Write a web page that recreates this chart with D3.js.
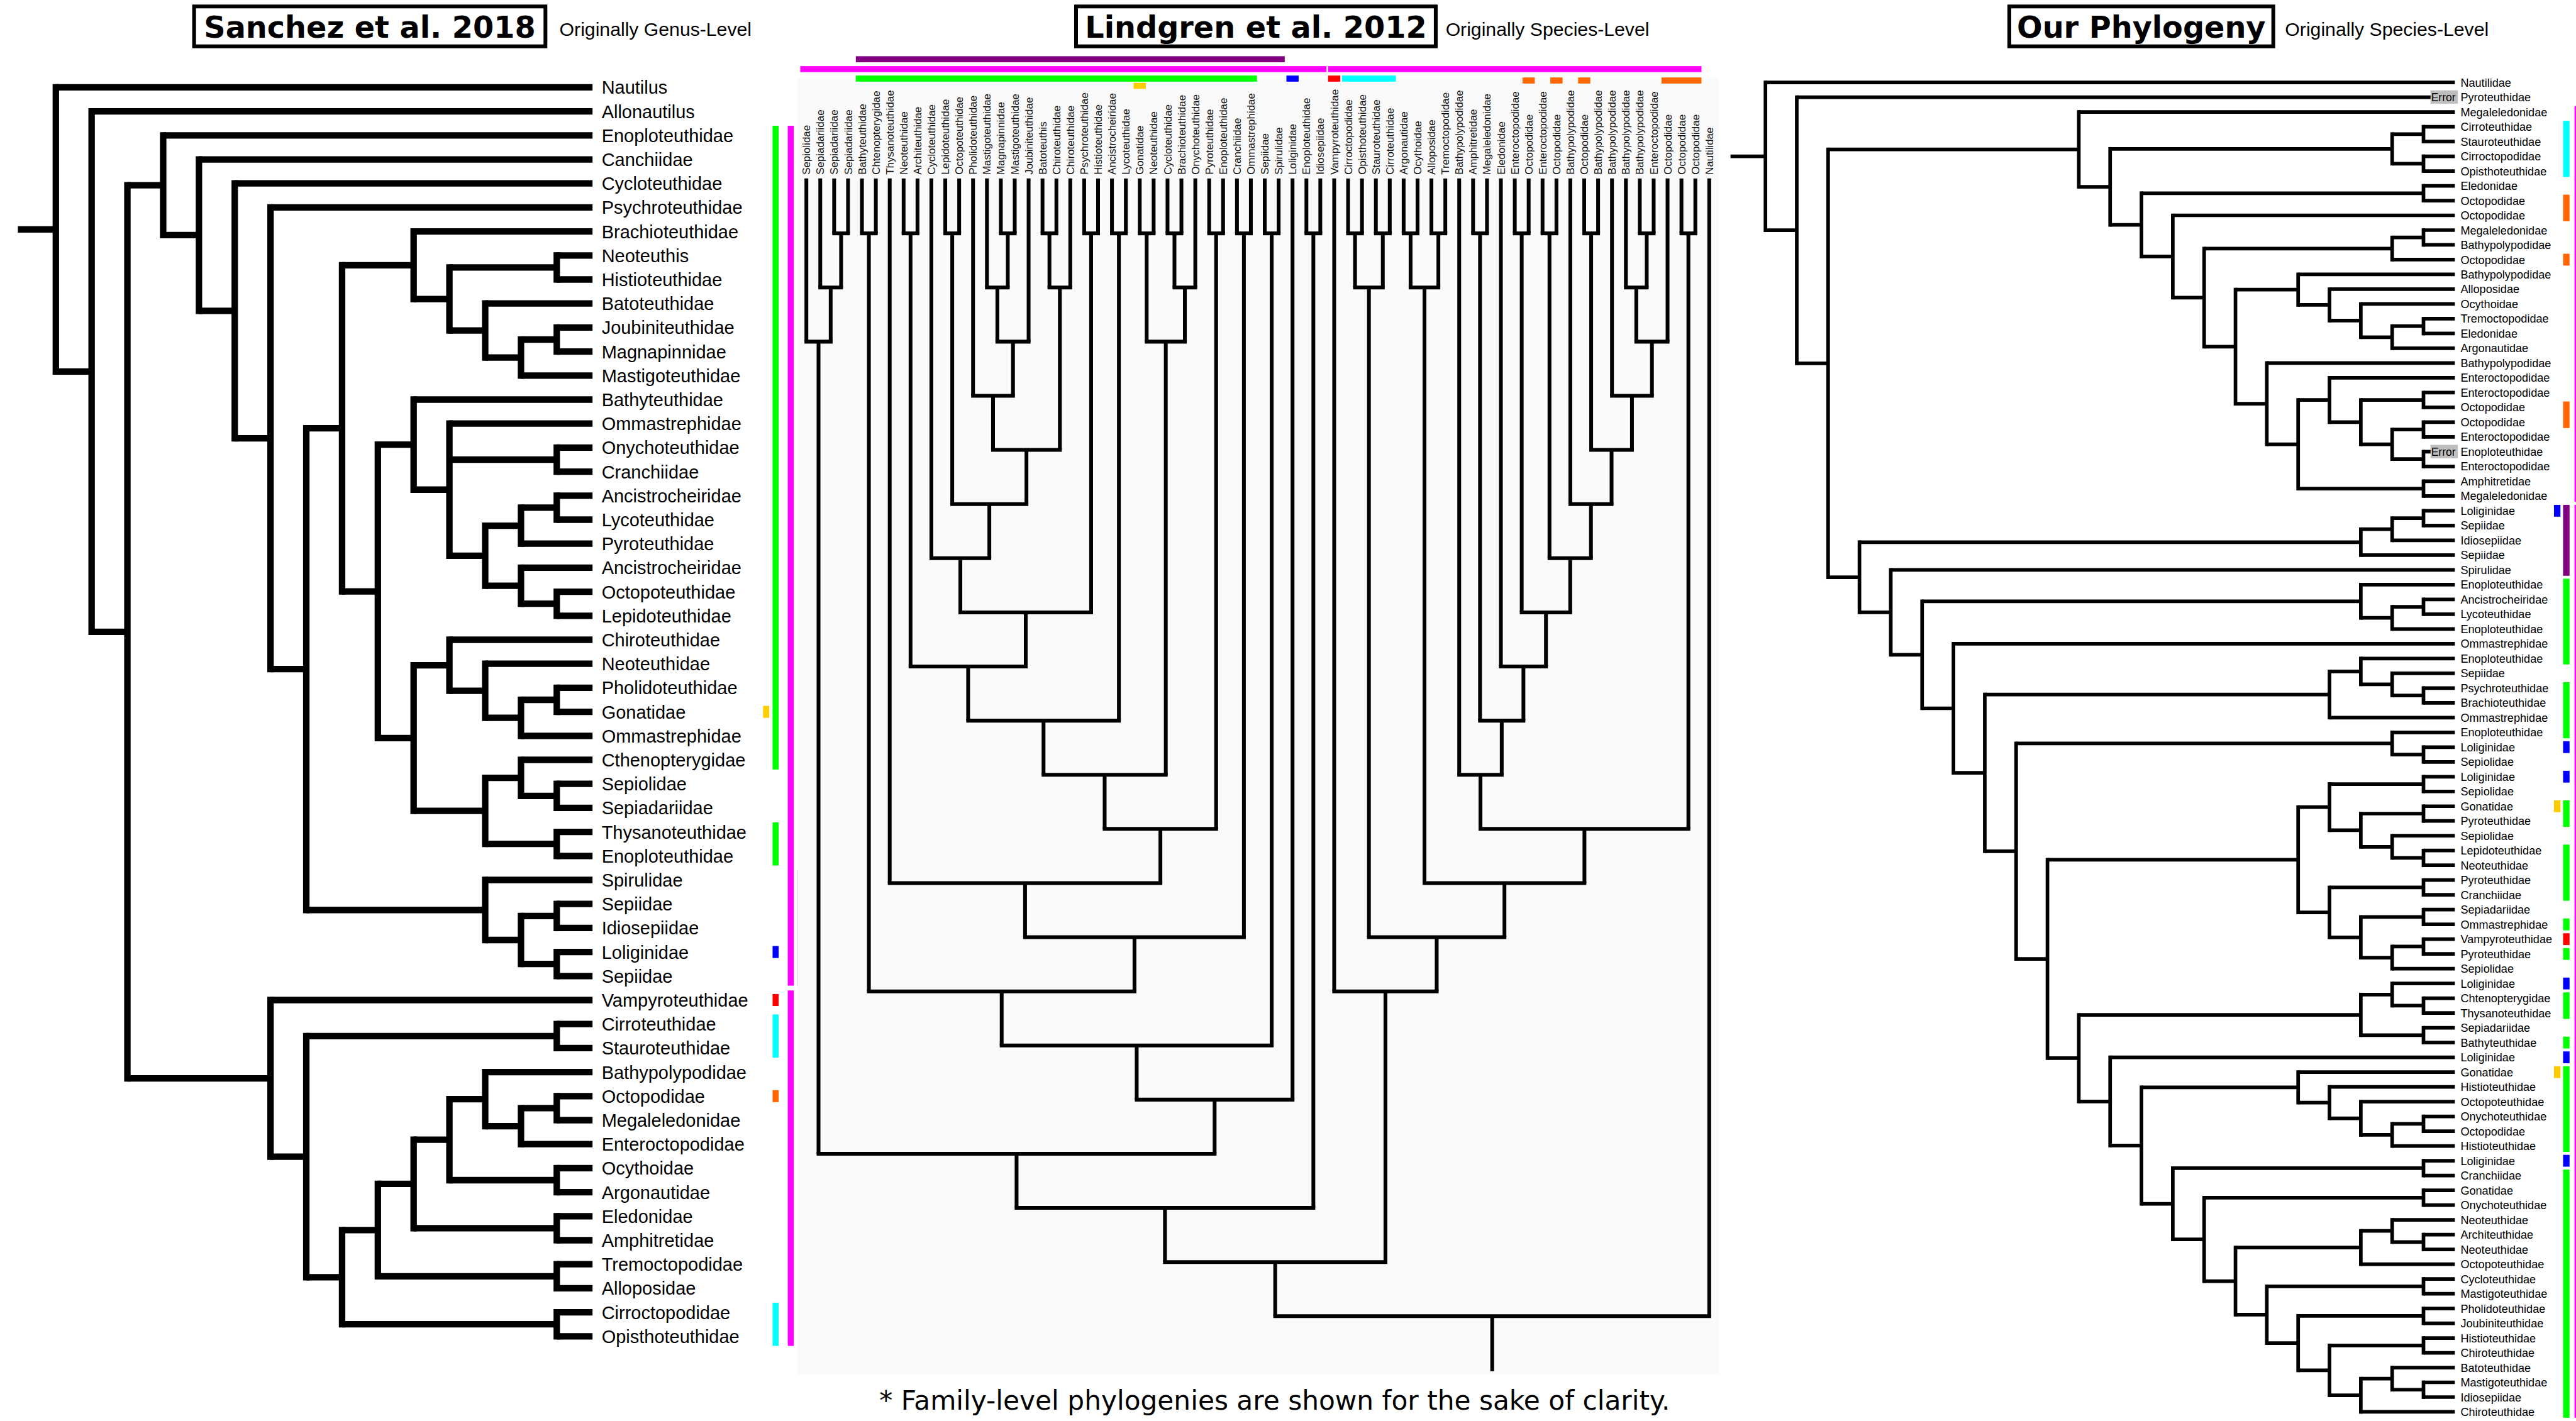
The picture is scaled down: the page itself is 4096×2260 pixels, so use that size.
<!DOCTYPE html>
<html><head><meta charset="utf-8">
<script src="https://cdn.jsdelivr.net/npm/d3@7"></script>
<style>body{margin:0;background:#fff}svg{display:block}</style>
</head><body>
<svg id="c" width="4096" height="2260"></svg>
<script>
// ---------------- DATA ----------------
// Sanchez et al. 2018 (genus level, shown at family level)
const sOegA = ["Brachioteuthidae",[["Neoteuthis","Histioteuthidae"],["Batoteuthidae",[["Joubiniteuthidae","Magnapinnidae"],"Mastigoteuthidae"]]]];
const sOegB = ["Bathyteuthidae",["Ommastrephidae",["Onychoteuthidae","Cranchiidae"],[[["Ancistrocheiridae","Lycoteuthidae"],"Pyroteuthidae"],["Ancistrocheiridae",["Octopoteuthidae","Lepidoteuthidae"]]]]];
const sOegC = [["Chiroteuthidae",["Neoteuthidae",[["Pholidoteuthidae","Gonatidae"],"Ommastrephidae"]]],[["Cthenopterygidae",["Sepiolidae","Sepiadariidae"]],["Thysanoteuthidae","Enoploteuthidae"]]];
const sSpir = ["Spirulidae",[["Sepiidae","Idiosepiidae"],["Loliginidae","Sepiidae"]]];
const sDeca = ["Enoploteuthidae",["Canchiidae",["Cycloteuthidae",["Psychroteuthidae",[[sOegA,[sOegB,sOegC]],sSpir]]]]];
const sOcto = ["Vampyroteuthidae",[["Cirroteuthidae","Stauroteuthidae"],[[[[["Bathypolypodidae",[["Octopodidae","Megaleledonidae"],"Enteroctopodidae"]],["Ocythoidae","Argonautidae"]],["Eledonidae","Amphitretidae"]],["Tremoctopodidae","Alloposidae"]],["Cirroctopodidae","Opisthoteuthidae"]]]];
const sanchezTree = ["Nautilus",["Allonautilus",[sDeca,sOcto]]];

// Lindgren et al. 2012
const L4 = ["Pholidoteuthidae",[["Mastigoteuthidae",["Magnapinnidae","Mastigoteuthidae"]],"Joubiniteuthidae"]];
const L5 = [L4,[["Batoteuthis","Chiroteuthidae"],"Chiroteuthidae"]];
const L6 = [["Lepidoteuthidae","Octopoteuthidae"],L5];
const L7 = ["Cycloteuthidae",L6];
const L8 = [L7,["Psychroteuthidae","Histioteuthidae"]];
const L9 = [["Neoteuthidae","Architeuthidae"],L8];
const L10 = [L9,["Ancistrocheiridae","Lycoteuthidae"]];
const L11 = [L10,[["Gonatidae","Neoteuthidae"],[["Cycloteuthidae","Brachioteuthidae"],"Onychoteuthidae"]]];
const L12 = [L11,["Pyroteuthidae","Enoploteuthidae"]];
const L13 = ["Thysanoteuthidae",L12];
const L14 = [L13,["Cranchiidae","Ommastrephidae"]];
const L15 = [["Bathyteuthidae","Chtenopterygidae"],L14];
const L16 = [L15,["Sepiidae","Spirulidae"]];
const L17 = [L16,"Loliginidae"];
const L18 = [["Sepiolidae",["Sepiadariidae",["Sepiadariidae","Sepiadariidae"]]],L17];
const L19 = [L18,["Enoploteuthidae","Idiosepiidae"]];
const lo2 = ["Bathypolypodidae",["Bathypolypodidae","Enteroctopodidae"]];
const lo3 = [lo2,"Octopodidae"];
const lo4 = ["Bathypolypodidae",lo3];
const lo5 = [["Octopodidae","Bathypolypodidae"],lo4];
const lo6 = ["Bathypolypodidae",lo5];
const lo7 = [["Enteroctopodidae","Octopodidae"],lo6];
const lo8 = [["Enteroctopodidae","Octopodidae"],lo7];
const lo9 = ["Eledonidae",lo8];
const lo10 = [["Amphitretidae","Megaleledonidae"],lo9];
const lo11 = ["Bathypolypodidae",lo10];
const lo12 = [lo11,["Octopodidae","Octopodidae"]];
const lo13 = [[["Argonautidae","Ocythoidae"],["Alloposidae","Tremoctopodidae"]],lo12];
const lo14 = [[["Cirroctopodidae","Opisthoteuthidae"],["Stauroteuthidae","Cirroteuthidae"]],lo13];
const lo15 = ["Vampyroteuthidae",lo14];
const lindgrenTree = [[L19,lo15],"Nautilidae"];

// Our Phylogeny
const O19b = [["Enteroctopodidae","Octopodidae"],[["Octopodidae","Enteroctopodidae"],["Enoploteuthidae","Enteroctopodidae"]]];
const O17b = [["Enteroctopodidae",O19b],["Amphitretidae","Megaleledonidae"]];
const O17a = ["Bathypolypodidae",["Alloposidae",["Ocythoidae",[["Tremoctopodidae","Eledonidae"],"Argonautidae"]]]];
const O15 = [O17a,["Bathypolypodidae",O17b]];
const O14 = [[["Megaleledonidae","Bathypolypodidae"],"Octopodidae"],O15];
const O12 = [["Eledonidae","Octopodidae"],["Octopodidae",O14]];
const ourOcto = ["Megaleledonidae",[[["Cirroteuthidae","Stauroteuthidae"],["Cirroctopodidae","Opisthoteuthidae"]],O12]];
const D19a = [[["Loliginidae","Sepiidae"],"Idiosepiidae"],"Sepiidae"];
const D19b = ["Enoploteuthidae",[["Ancistrocheiridae","Lycoteuthidae"],"Enoploteuthidae"]];
const D18c = [["Enoploteuthidae",["Sepiidae",["Psychroteuthidae","Brachioteuthidae"]]],"Ommastrephidae"];
const D20 = ["Enoploteuthidae",["Loliginidae","Sepiolidae"]];
const D18e = [["Loliginidae","Sepiolidae"],[["Gonatidae","Pyroteuthidae"],["Sepiolidae",["Lepidoteuthidae","Neoteuthidae"]]]];
const D18f = [["Pyroteuthidae","Cranchiidae"],[["Sepiadariidae","Ommastrephidae"],[["Vampyroteuthidae","Pyroteuthidae"],"Sepiolidae"]]];
const D19g = [["Loliginidae",["Chtenopterygidae","Thysanoteuthidae"]],["Sepiadariidae","Bathyteuthidae"]];
const D17h = ["Gonatidae",["Histioteuthidae",["Octopoteuthidae",[["Onychoteuthidae","Octopodidae"],"Histioteuthidae"]]]];
const D19k = [["Neoteuthidae",["Architeuthidae","Neoteuthidae"]],"Octopoteuthidae"];
const D18k = [["Histioteuthidae","Chiroteuthidae"],[["Batoteuthidae",["Mastigoteuthidae","Idiosepiidae"]],"Chiroteuthidae"]];
const D15 = [D19k,[["Cycloteuthidae","Mastigoteuthidae"],[["Pholidoteuthidae","Joubiniteuthidae"],D18k]]];
const D12 = [D17h,[["Loliginidae","Cranchiidae"],[["Gonatidae","Onychoteuthidae"],D15]]];
const D9 = [[D18e,D18f],[D19g,["Loliginidae",D12]]];
const ourDeca = [D19a,["Spirulidae",[D19b,["Ommastrephidae",[D18c,[D20,D9]]]]]];
const ourTree = ["Nautilidae",["Pyroteuthidae",[ourOcto,ourDeca]]];
const ourErrors = [2,26];

// clade marker bars (leaf numbers, 1-based)
const groups = ["Oegopsida","Superorder","Sepiida","Gonatidae","Loliginidae","Vampyroteuthidae","Cirrata","Octopodidae"];
const sanchezBars = [
 {group:"Oegopsida",from:3,to:29,track:"b"},{group:"Gonatidae",from:27,to:27,track:"a"},
 {group:"Oegopsida",from:32,to:33,track:"b"},{group:"Loliginidae",from:37,to:37,track:"b"},
 {group:"Vampyroteuthidae",from:39,to:39,track:"b"},{group:"Cirrata",from:40,to:41,track:"b"},
 {group:"Octopodidae",from:43,to:43,track:"b"},{group:"Cirrata",from:52,to:53,track:"b"},
 {group:"Superorder",from:3,to:38,track:"c"},{group:"Sepiida",from:34,to:38,track:"d"},
 {group:"Superorder",from:39,to:53,track:"c"}];
const lindgrenBars = [
 {group:"Sepiida",from:5,to:35,track:"p"},{group:"Superorder",from:1,to:38,track:"m"},
 {group:"Superorder",from:39,to:65,track:"m"},{group:"Oegopsida",from:5,to:33,track:"g"},
 {group:"Gonatidae",from:25,to:25,track:"y"},{group:"Loliginidae",from:36,to:36,track:"g"},
 {group:"Vampyroteuthidae",from:39,to:39,track:"g"},{group:"Cirrata",from:40,to:43,track:"g"},
 {group:"Octopodidae",from:53,to:53,track:"o"},{group:"Octopodidae",from:55,to:55,track:"o"},
 {group:"Octopodidae",from:57,to:57,track:"o"},{group:"Octopodidae",from:63,to:65,track:"o"}];
const ourBars = [
 {group:"Cirrata",from:4,to:7,track:"main"},{group:"Octopodidae",from:9,to:10,track:"main"},
 {group:"Octopodidae",from:13,to:13,track:"main"},{group:"Octopodidae",from:23,to:24,track:"main"},
 {group:"Loliginidae",from:30,to:30,track:"inner"},{group:"Sepiida",from:30,to:34,track:"main"},
 {group:"Oegopsida",from:35,to:40,track:"main"},{group:"Oegopsida",from:42,to:45,track:"main"},
 {group:"Loliginidae",from:46,to:46,track:"main"},{group:"Loliginidae",from:48,to:48,track:"main"},
 {group:"Gonatidae",from:50,to:50,track:"inner"},{group:"Oegopsida",from:50,to:51,track:"main"},
 {group:"Oegopsida",from:53,to:56,track:"main"},{group:"Oegopsida",from:58,to:58,track:"main"},
 {group:"Vampyroteuthidae",from:59,to:59,track:"main"},{group:"Oegopsida",from:60,to:60,track:"main"},
 {group:"Loliginidae",from:62,to:62,track:"main"},{group:"Oegopsida",from:63,to:64,track:"main"},
 {group:"Oegopsida",from:66,to:66,track:"main"},{group:"Loliginidae",from:67,to:67,track:"main"},
 {group:"Gonatidae",from:68,to:68,track:"inner"},{group:"Oegopsida",from:68,to:73,track:"main"},
 {group:"Loliginidae",from:74,to:74,track:"main"},{group:"Oegopsida",from:75,to:91,track:"main"},
 {group:"Superorder",from:3,to:29,track:"outer"},{group:"Superorder",from:30,to:91,track:"outer"}];

const titles = ["Sanchez et al. 2018","Lindgren et al. 2012","Our Phylogeny"];
const subtitles = ["Originally Genus-Level","Originally Species-Level","Originally Species-Level"];
const footnote = "* Family-level phylogenies are shown for the sake of clarity.";

// ---------------- DRAWING ----------------
const S = 4096/6782;
const svg = d3.select("#c");
const g = svg.append("g").attr("transform", `scale(${S})`);
const FONT = "'Liberation Sans', Arial, Helvetica, sans-serif";
const color = d3.scaleOrdinal().domain(groups)
  .range(["#00ff00","#ff00ff","#800080","#ffcc00","#0000ff","#ff0000","#00ffff","#ff6600"]);

function build(data){
  const root = d3.hierarchy(data, d => Array.isArray(d) ? d : null);
  root.leaves().forEach((l,i)=>{ l.pos = i; });
  root.eachAfter(n=>{ if(n.children) n.pos = (n.children[0].pos + n.children[n.children.length-1].pos)/2; });
  return root;
}

// horizontal (root left) tree
function drawH(root, xS, yS, sw, stubX, labelX, fs){
  const gg = g.append("g").attr("stroke","#000").attr("stroke-width",sw).attr("fill","none");
  const inner = root.descendants().filter(n=>n.children);
  gg.selectAll(null).data(inner).join("line")
    .attr("x1",n=>xS(n.height)).attr("x2",n=>xS(n.height))
    .attr("y1",n=>yS(n.children[0].pos)-sw/2).attr("y2",n=>yS(n.children[n.children.length-1].pos)+sw/2);
  gg.selectAll(null).data(root.links()).join("line")
    .attr("x1",l=>xS(l.source.height)).attr("x2",l=>xS(l.target.height))
    .attr("y1",l=>yS(l.target.pos)).attr("y2",l=>yS(l.target.pos));
  gg.append("line").attr("x1",stubX).attr("x2",xS(root.height))
    .attr("y1",yS(root.pos)).attr("y2",yS(root.pos));
  g.append("g").selectAll(null).data(root.leaves()).join("text")
    .attr("x",labelX).attr("y",d=>yS(d.pos)).attr("dy","0.36em")
    .attr("font-family",FONT).attr("font-size",fs).attr("fill","#000")
    .text(d=>d.data);
}

// ---- Sanchez ----
const sRoot = build(sanchezTree);
const sx = d3.scaleLinear().domain([sRoot.height,0]).range([147,1560]);
const sy = d3.scaleLinear().domain([0,sRoot.leaves().length-1]).range([230,3519]);
drawH(sRoot, sx, sy, 17, 47, 1584, 48);
const sSp = sy(1)-sy(0);
const sTrack = {a:2009,b:2034,c:2074,d:2100};
g.append("g").selectAll(null).data(sanchezBars).join("rect")
  .attr("x",d=>sTrack[d.track]).attr("width",16)
  .attr("y",d=>sy(d.from-1)-(d.from===d.to?0.25:0.4)*sSp)
  .attr("height",d=>sy(d.to-1)-sy(d.from-1)+2*(d.from===d.to?0.25:0.4)*sSp)
  .attr("fill",d=>color(d.group));

// ---- Lindgren ----
g.append("rect").attr("x",2100).attr("y",205).attr("width",2425).attr("height",3415).attr("fill","#fafafa");
const lRoot = build(lindgrenTree);
const lx = d3.scaleLinear().domain([0,lRoot.leaves().length-1]).range([2123,4500]);
const ly = d3.scaleLinear().domain([0,lRoot.height]).range([472,3466]);
{
  const sw = 10;
  const gg = g.append("g").attr("stroke","#000").attr("stroke-width",sw).attr("fill","none");
  const inner = lRoot.descendants().filter(n=>n.children);
  gg.selectAll(null).data(inner).join("line")
    .attr("y1",n=>ly(n.height)).attr("y2",n=>ly(n.height))
    .attr("x1",n=>lx(n.children[0].pos)-sw/2).attr("x2",n=>lx(n.children[n.children.length-1].pos)+sw/2);
  gg.selectAll(null).data(lRoot.links()).join("line")
    .attr("y1",l=>ly(l.source.height)).attr("y2",l=>l.target.children?ly(l.target.height):ly(0)-2)
    .attr("x1",l=>lx(l.target.pos)).attr("x2",l=>lx(l.target.pos));
  gg.append("line").attr("x1",lx(lRoot.pos)).attr("x2",lx(lRoot.pos))
    .attr("y1",ly(lRoot.height)).attr("y2",3611);
  g.append("g").selectAll(null).data(lRoot.leaves()).join("text")
    .attr("transform",d=>`translate(${lx(d.pos)},460) rotate(-90)`).attr("dy","0.36em")
    .attr("font-family",FONT).attr("font-size",28).attr("fill","#111")
    .text(d=>d.data);
  const lSp = lx(1)-lx(0);
  const lRow = {p:148,m:174,g:199,o:204,y:218};
  g.append("g").selectAll(null).data(lindgrenBars).join("rect")
    .attr("y",d=>lRow[d.track]).attr("height",16)
    .attr("x",d=>lx(d.from-1)-0.44*lSp).attr("width",d=>lx(d.to-1)-lx(d.from-1)+0.88*lSp)
    .attr("fill",d=>color(d.group));
}

// ---- Our Phylogeny ----
const oRoot = build(ourTree);
const ox = d3.scaleLinear().domain([oRoot.height,0]).range([4648,6463]);
const oy = d3.scaleLinear().domain([0,oRoot.leaves().length-1]).range([217,3718]);
drawH(oRoot, ox, oy, 9.5, 4556, 6478, 30);
const oSp = oy(1)-oy(0);
const eg = g.append("g").selectAll(null).data(ourErrors).join("g");
eg.append("rect").attr("x",6399).attr("width",72).attr("y",d=>oy(d-1)-18).attr("height",35).attr("fill","#bebebe");
eg.append("text").attr("x",6465).attr("y",d=>oy(d-1)).attr("dy","0.36em").attr("text-anchor","end")
  .attr("font-family",FONT).attr("font-size",29).attr("fill","#000").text("Error");
const oTrack = {inner:6724,main:6748,outer:6778};
g.append("g").selectAll(null).data(ourBars).join("rect")
  .attr("x",d=>oTrack[d.track]).attr("width",d=>d.track==="outer"?10:17)
  .attr("y",d=>oy(d.from-1)-0.4*oSp).attr("height",d=>oy(d.to-1)-oy(d.from-1)+0.8*oSp)
  .attr("fill",d=>color(d.group));

// ---- Titles ----
const boxes = [[506,1441],[2828,3785],[5285,5990]];
const subX = [1473,3806,6016];
const tg = g.append("g").selectAll(null).data(titles).join("g");
tg.append("rect").attr("x",(d,i)=>boxes[i][0]+5).attr("y",17).attr("width",(d,i)=>boxes[i][1]-boxes[i][0]-10).attr("height",105)
  .attr("fill","#fff").attr("stroke","#000").attr("stroke-width",10);
tg.append("text").attr("x",(d,i)=>(boxes[i][0]+boxes[i][1])/2).attr("y",99).attr("text-anchor","middle")
  .attr("font-family","'DejaVu Sans', Verdana, sans-serif").attr("font-weight","bold").attr("font-size",79)
  .attr("fill","#000").text(d=>d);
g.append("g").selectAll(null).data(subtitles).join("text")
  .attr("x",(d,i)=>subX[i]).attr("y",95).attr("font-family",FONT).attr("font-size",50).attr("fill","#000").text(d=>d);
g.append("text").attr("x",3356).attr("y",3712).attr("text-anchor","middle")
  .attr("font-family","'DejaVu Sans', Verdana, sans-serif").attr("font-size",70).attr("fill","#000").text(footnote);
</script>
</body></html>
